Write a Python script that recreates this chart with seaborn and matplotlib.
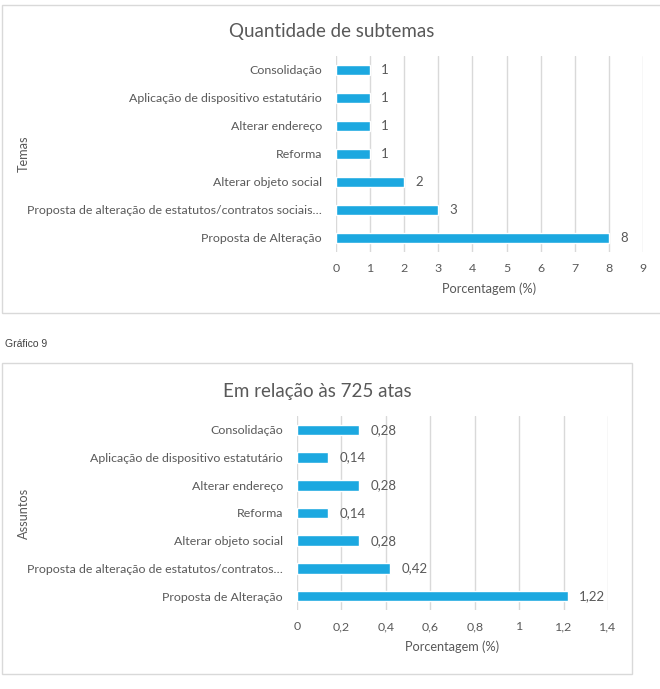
import matplotlib
matplotlib.use("Agg")
import matplotlib.pyplot as plt
from matplotlib.patches import Rectangle
from matplotlib.ticker import FuncFormatter, MultipleLocator
import seaborn as sns

# dados
temas = ["Consolidação", "Aplicação de dispositivo estatutário", "Alterar endereço",
         "Reforma", "Alterar objeto social",
         "Proposta de alteração de estatutos/contratos sociais…", "Proposta de Alteração"]
subtemas = [1, 1, 1, 1, 2, 3, 8]

assuntos = ["Consolidação", "Aplicação de dispositivo estatutário", "Alterar endereço",
            "Reforma", "Alterar objeto social",
            "Proposta de alteração de estatutos/contratos…", "Proposta de Alteração"]
percent_atas = [0.28, 0.14, 0.28, 0.14, 0.28, 0.42, 1.22]

sns.set_theme(style="white")
plt.rcParams['font.family'] = ['Lato', 'DejaVu Sans']

W, H = 660, 689
BAR = "#1CA8E0"
TXT = "#595959"
GRID = "#D9D9D9"

fig = plt.figure(figsize=(W / 100, H / 100), dpi=100)


def px_axes(x0, y0, x1, y1):
    return fig.add_axes([x0 / W, 1 - y1 / H, (x1 - x0) / W, (y1 - y0) / H])


def caixa(x0, y0, x1, y1):
    fig.patches.append(Rectangle((x0 / W, 1 - y1 / H), (x1 - x0) / W, (y1 - y0) / H,
                                 transform=fig.transFigure, fill=False,
                                 edgecolor=GRID, linewidth=1))


def grafico(ax, cats, vals, xmax, step, titulo, ylab, fmt, ylab_x, titulo_x):
    sns.barplot(x=vals, y=cats, ax=ax, color=BAR, width=0.38, saturation=1, orient="h")
    ax.set_xlim(0, xmax)
    ax.xaxis.set_major_locator(MultipleLocator(step))
    ax.xaxis.set_major_formatter(FuncFormatter(lambda v, p: fmt(v)))
    ax.grid(axis="x", color=GRID, linewidth=1)
    ax.set_axisbelow(True)
    for s in ax.spines.values():
        s.set_visible(False)
    ax.tick_params(axis="both", length=0, colors=TXT, labelsize=8.9)
    ax.tick_params(axis="y", pad=10)
    ax.tick_params(axis="x", pad=8)
    ax.set_xlabel("Porcentagem (%)", color=TXT, fontsize=9.2, labelpad=6)
    ax.set_ylabel(ylab, color=TXT, fontsize=9.2)
    ax.yaxis.set_label_coords(ylab_x, 0.5)
    ax.set_title(titulo, color=TXT, fontsize=13.5, pad=14)
    ax.title.set_position((titulo_x, 1))
    ax.bar_label(ax.containers[0], labels=[fmt(v) for v in vals], padding=8,
                 color=TXT, fontsize=9.5)


# gráfico de cima
caixa(2, 5, 668, 313)
ax1 = px_axes(336, 56, 643, 252)
grafico(ax1, temas, subtemas, 9, 1, "Quantidade de subtemas", "Temas",
        lambda v: f"{v:g}", (30 - 336) / 307, (332 - 336) / 307)

# legenda do gráfico
fig.text(5 / W, 1 - 344 / H, "Gráfico 9", fontsize=7.5, color="#404040",
         va="center", ha="left", family=['Liberation Sans', 'DejaVu Sans'])

# gráfico de baixo
caixa(2, 363, 632, 674)
ax2 = px_axes(297, 416, 608, 610)
grafico(ax2, assuntos, percent_atas, 1.4, 0.2, "Em relação às 725 atas", "Assuntos",
        lambda v: f"{round(v, 2):g}".replace(".", ","), (30 - 297) / 311,
        (317 - 297) / 311)

fig.savefig("out.png", dpi=100)
